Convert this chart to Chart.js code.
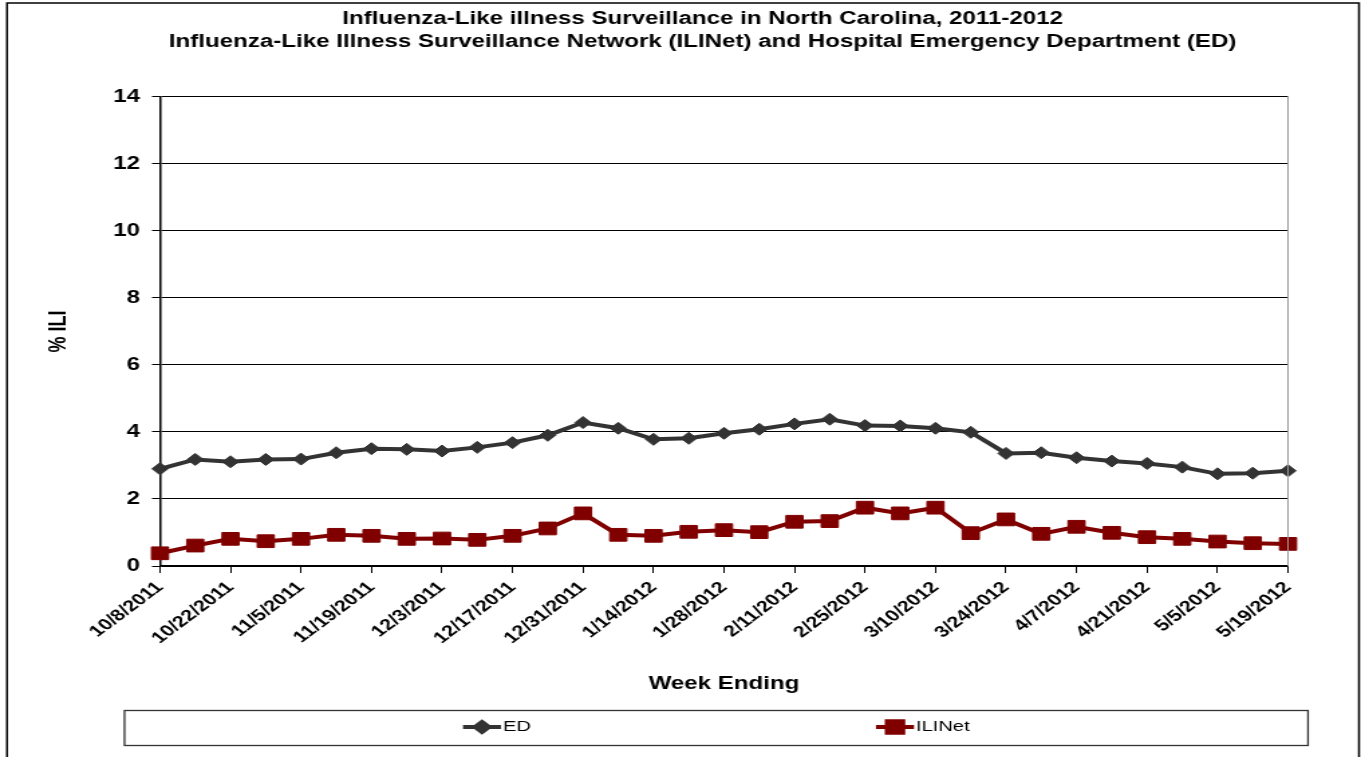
<!DOCTYPE html>
<html>
<head>
<meta charset="utf-8">
<script src="https://cdn.jsdelivr.net/npm/chart.js@4.4.1/dist/chart.umd.min.js"></script>
<style>
  html, body { margin: 0; padding: 0; background: #fff; overflow: hidden; }
  #wrap { width: 1361px; height: 757px; position: relative; }
  #iliChart { display: block; }
</style>
</head>
<body>
<div id="wrap"><canvas id="iliChart" width="1016" height="757" style="width:1361px;height:757px"></canvas></div>
<script>
const weeks = [
    '10/8/2011', '10/15/2011', '10/22/2011', '10/29/2011', '11/5/2011', '11/12/2011',
    '11/19/2011', '11/26/2011', '12/3/2011', '12/10/2011', '12/17/2011', '12/24/2011',
    '12/31/2011', '1/7/2012', '1/14/2012', '1/21/2012', '1/28/2012', '2/4/2012',
    '2/11/2012', '2/18/2012', '2/25/2012', '3/3/2012', '3/10/2012', '3/17/2012',
    '3/24/2012', '3/31/2012', '4/7/2012', '4/14/2012', '4/21/2012', '4/28/2012',
    '5/5/2012', '5/12/2012', '5/19/2012'
];

const edValues = [
    2.90, 3.18, 3.11, 3.18, 3.19, 3.38, 3.50, 3.48, 3.43, 3.54, 3.68, 3.90,
    4.28, 4.11, 3.78, 3.81, 3.96, 4.08, 4.24, 4.38, 4.19, 4.18, 4.11, 3.99,
    3.36, 3.38, 3.23, 3.13, 3.06, 2.95, 2.75, 2.77, 2.84
];

const iliNetValues = [
    0.38, 0.61, 0.81, 0.74, 0.81, 0.93, 0.90, 0.81, 0.82, 0.78, 0.90, 1.12,
    1.57, 0.93, 0.90, 1.02, 1.07, 1.01, 1.32, 1.34, 1.74, 1.57, 1.74, 0.98,
    1.39, 0.96, 1.17, 0.99, 0.86, 0.81, 0.73, 0.68, 0.66
];

const yTicks = [0, 2, 4, 6, 8, 10, 12, 14];

const titleLines = [
    'Influenza-Like illness Surveillance in North Carolina, 2011-2012',
    'Influenza-Like Illness Surveillance Network (ILINet) and Hospital Emergency Department (ED)'
];

// original je vodoravno razvucen, pa se platno crta uze i CSS ga razvuce
const RAZVUCI = 1361 / 1016;
const sx = x => x / RAZVUCI;

const FONT = '"Liberation Sans", Arial, sans-serif';

// okvir slike, desni rub plota i legenda u kutiji
const okvirPlugin = {
    id: 'okvir',
    afterDraw(chart) {
        const ctx = chart.ctx;
        const a = chart.chartArea;
        ctx.save();

        ctx.strokeStyle = '#000';
        ctx.lineWidth = 1.5;
        ctx.beginPath();
        ctx.moveTo(sx(7), 757);
        ctx.lineTo(sx(7), 3);
        ctx.lineTo(sx(1359), 3);
        ctx.lineTo(sx(1359), 757);
        ctx.stroke();

        ctx.strokeStyle = '#999';
        ctx.lineWidth = 1;
        ctx.beginPath();
        ctx.moveTo(a.right, a.top);
        ctx.lineTo(a.right, a.bottom);
        ctx.stroke();

        // legenda
        ctx.strokeStyle = '#333';
        ctx.lineWidth = 1.3;
        ctx.strokeRect(sx(124.5), 710.5, sx(1308) - sx(124.5), 35);

        const pozicije = [sx(463), sx(876)];
        chart.data.datasets.forEach((ds, i) => {
            const x = pozicije[i];
            const y = 727;
            ctx.strokeStyle = ds.borderColor;
            ctx.fillStyle = ds.borderColor;
            ctx.lineWidth = 4;
            ctx.beginPath();
            ctx.moveTo(x, y);
            ctx.lineTo(x + sx(38), y);
            ctx.stroke();
            Chart.helpers.drawPoint(ctx, {
                pointStyle: ds.pointStyle,
                radius: i === 0 ? 5 : 8,
                borderWidth: 1
            }, x + sx(19), y);
            ctx.fillStyle = '#000';
            ctx.font = '15px ' + FONT;
            ctx.textAlign = 'left';
            ctx.textBaseline = 'middle';
            ctx.fillText(ds.label, x + sx(40), y);
        });
        ctx.restore();
    }
};

const ctx = document.getElementById('iliChart').getContext('2d');

const iliChart = new Chart(ctx, {
    type: 'line',
    data: {
        labels: weeks,
        datasets: [{
            label: 'ED',
            data: edValues,
            borderColor: '#333333',
            backgroundColor: '#333333',
            borderWidth: 4,
            pointStyle: 'rectRot',
            pointRadius: 6,
            pointBorderWidth: 1,
            tension: 0
        }, {
            label: 'ILINet',
            data: iliNetValues,
            borderColor: '#800000',
            backgroundColor: '#800000',
            borderWidth: 4,
            pointStyle: 'rect',
            pointRadius: 9,
            pointBorderWidth: 1,
            tension: 0
        }]
    },
    options: {
        responsive: false,
        animation: false,
        devicePixelRatio: 1,
        layout: {
            padding: { left: 33, right: 0, top: 0, bottom: 60 }
        },
        plugins: {
            legend: { display: false },
            tooltip: { enabled: false },
            title: {
                display: true,
                text: titleLines,
                color: '#000',
                font: { family: FONT, size: 18, weight: 'bold', lineHeight: 1.3 },
                padding: { top: 7, bottom: 43 }
            }
        },
        scales: {
            x: {
                type: 'category',
                offset: false,
                grid: {
                    drawOnChartArea: false,
                    tickLength: 7,
                    color: c => (c.index % 2 === 0 ? '#000' : 'rgba(0,0,0,0)'),
                    lineWidth: 1
                },
                border: { color: '#000', width: 1.5 },
                ticks: {
                    autoSkip: false,
                    maxRotation: 45,
                    minRotation: 45,
                    padding: 5,
                    color: '#000',
                    font: { family: FONT, size: 16, weight: 'bold' },
                    callback: (v, i) => (i % 2 === 0 ? weeks[i] : '')
                },
                title: {
                    display: true,
                    text: 'Week Ending',
                    color: '#000',
                    font: { family: FONT, size: 18, weight: 'bold' },
                    padding: { top: 4, bottom: 2 }
                },
                afterFit(scale) { scale.height = 131; }
            },
            y: {
                min: 0,
                max: 14,
                afterBuildTicks(scale) { scale.ticks = yTicks.map(v => ({ value: v })); },
                grid: {
                    color: '#000',
                    lineWidth: 1,
                    tickLength: 6
                },
                border: { color: '#000', width: 1.5 },
                ticks: {
                    color: '#000',
                    padding: 9,
                    font: { family: FONT, size: 18, weight: 'bold' }
                },
                title: {
                    display: true,
                    text: '% ILI',
                    color: '#000',
                    font: { family: FONT, size: 18, weight: 'bold' },
                    padding: { top: 0, bottom: 0 }
                },
                afterFit(scale) { scale.width = sx(160) - 33; }
            },
            // prazna desna os samo drzi razmak do desnog ruba
            desno: {
                position: 'right',
                display: true,
                grid: { display: false },
                border: { display: false },
                ticks: { display: false },
                afterFit(scale) { scale.width = 1016 - sx(1288); }
            }
        }
    },
    plugins: [okvirPlugin]
});
</script>
</body>
</html>
